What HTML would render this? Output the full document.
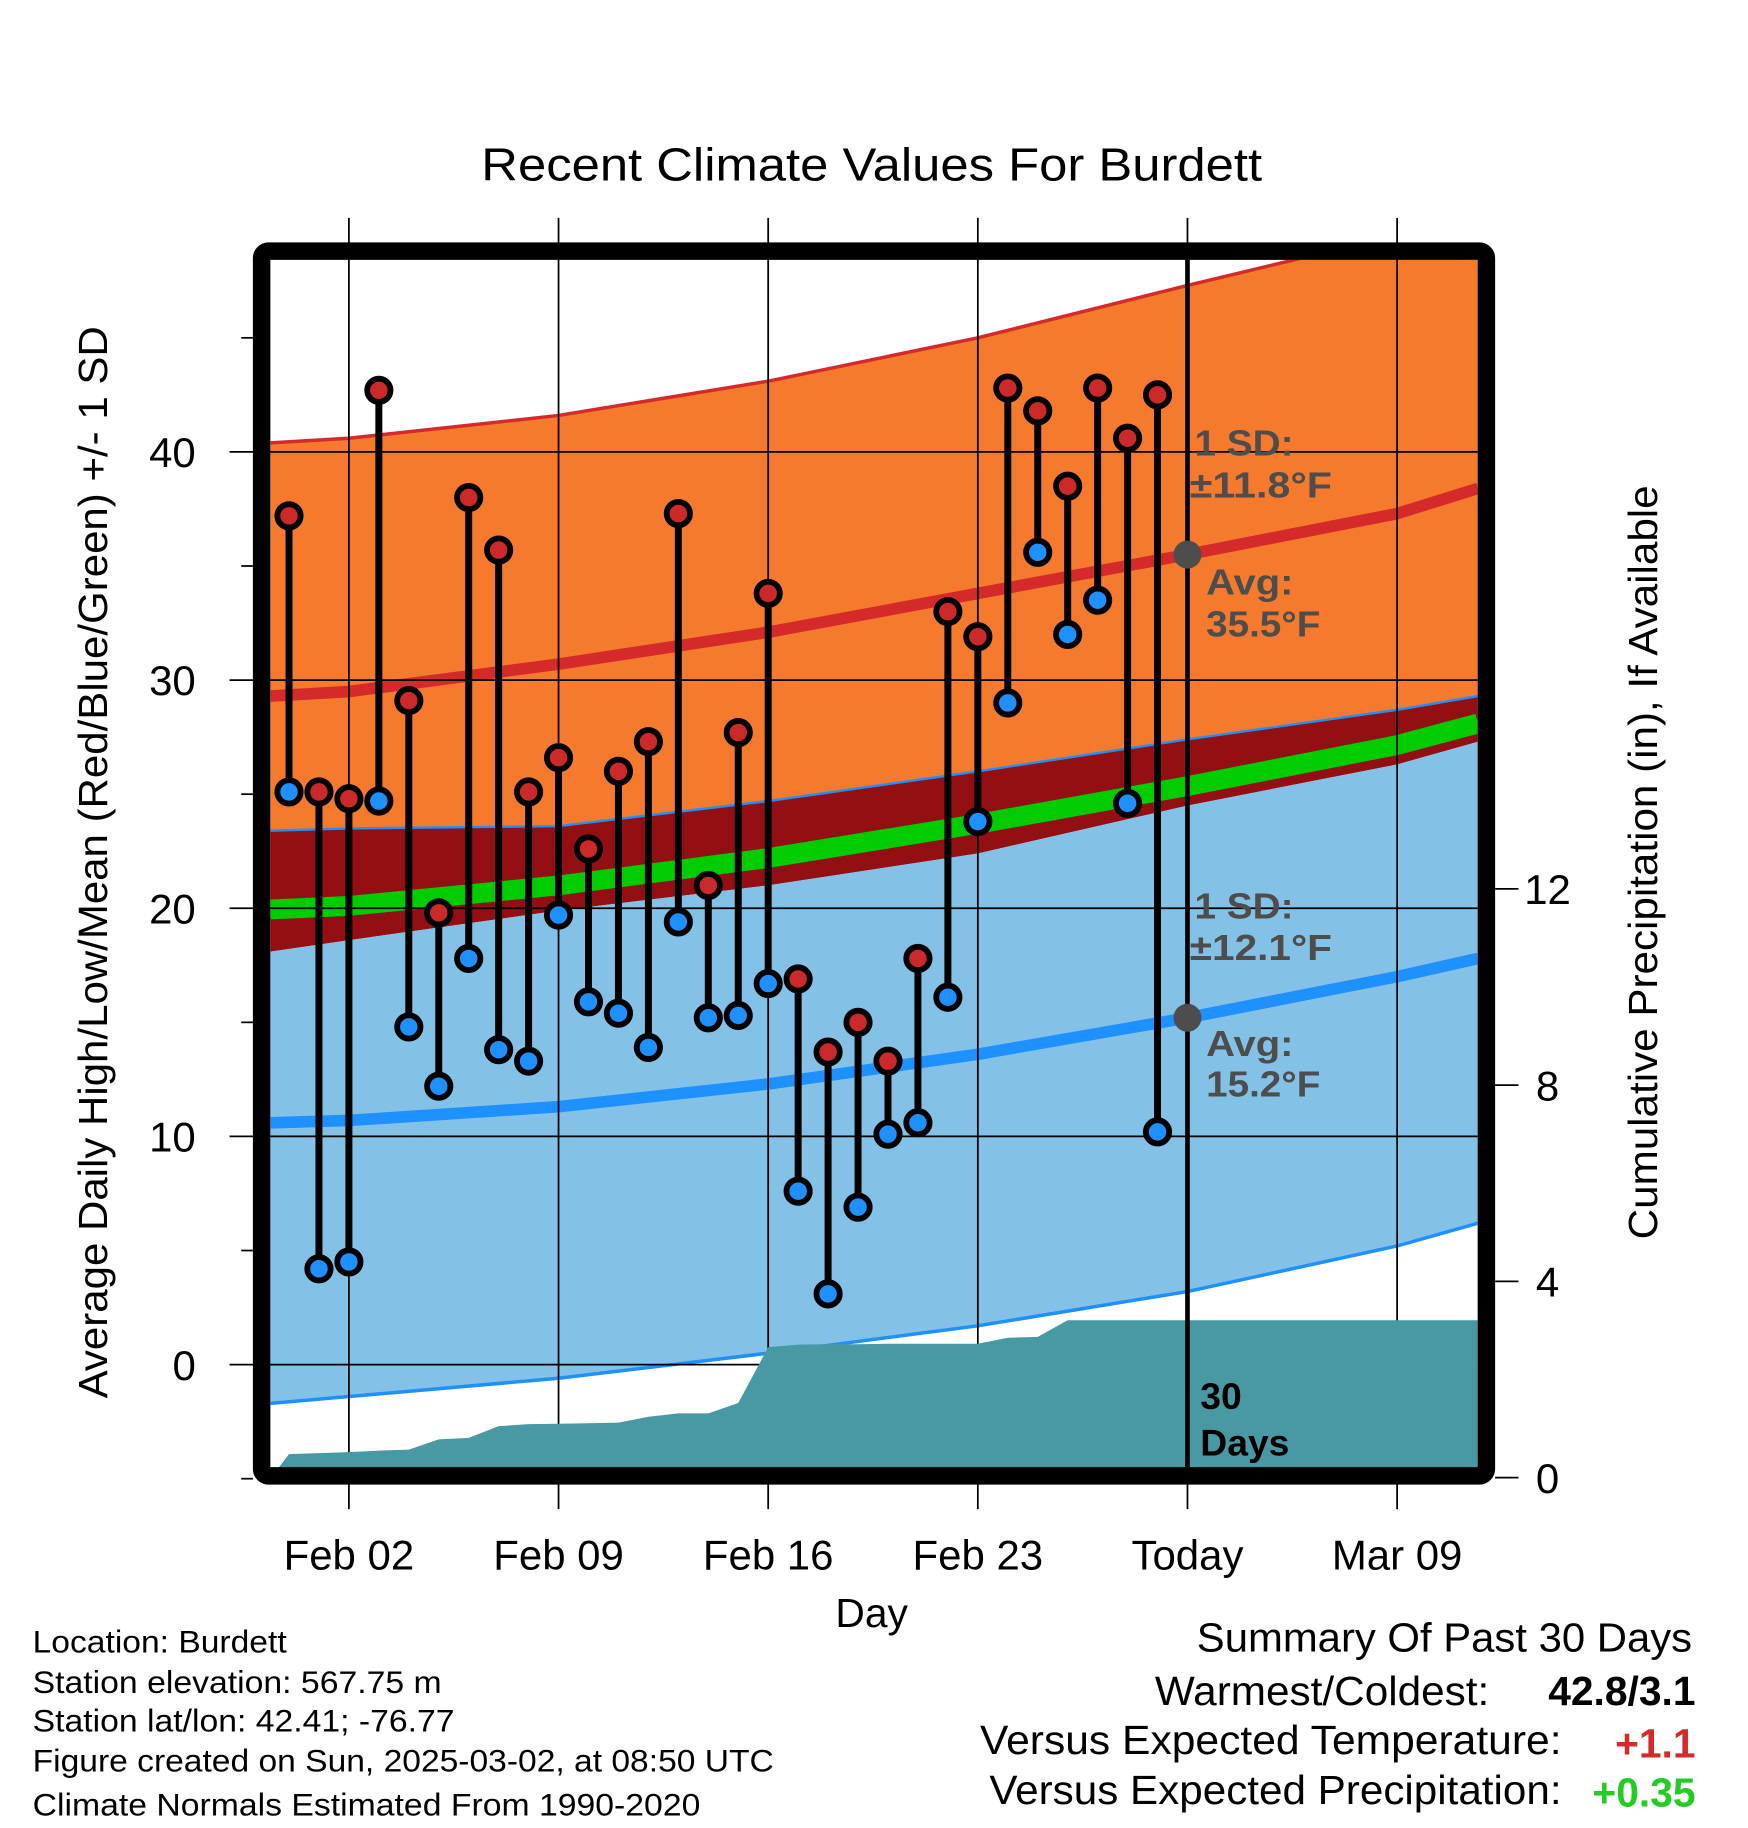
<!DOCTYPE html>
<html><head><meta charset="utf-8"><style>
html,body{margin:0;padding:0;background:#fff;}
svg{display:block;font-family:"Liberation Sans",sans-serif;}
</style></head><body>
<svg id="chart" width="1748" height="1828" viewBox="0 0 1500 1568.65" preserveAspectRatio="none" xmlns="http://www.w3.org/2000/svg">
<defs><clipPath id="plotclip"><rect x="232" y="223" width="1036" height="1036"/></clipPath></defs>
<g id="plot" clip-path="url(#plotclip)"></g>
<g id="over"></g>
</svg>
<script>
// ---- data ----
const dayLabels = ["Feb 02","Feb 09","Feb 16","Feb 23","Today","Mar 09"];
const dayTicks = [2,9,16,23,30,37];
const highs = [37.2,25.1,24.8,42.7,29.1,19.8,38.0,35.7,25.1,26.6,22.6,26.0,27.3,37.3,21.0,27.7,33.8,16.9,13.7,15.0,13.3,17.8,33.0,31.9,42.8,41.8,38.5,42.8,40.6,42.5];
const lows  = [25.1,4.2,4.5,24.7,14.8,12.2,17.8,13.8,13.3,19.7,15.9,15.4,13.9,19.4,15.2,15.3,16.7,7.6,3.1,6.9,10.1,10.6,16.1,23.8,29.0,35.6,32.0,33.5,24.6,10.2];
const precip = [0.48,0.50,0.52,0.55,0.57,0.78,0.81,1.05,1.09,1.10,1.11,1.12,1.24,1.31,1.31,1.52,2.66,2.71,2.72,2.72,2.73,2.73,2.73,2.73,2.85,2.87,3.21,3.21,3.21,3.21];
const normDays  = [-0.62,2,9,16,23,30,37,39.7];
const avgHigh   = [29.3,29.5,30.7,32.1,33.8,35.5,37.3,38.4];
const highPlus  = [40.4,40.6,41.6,43.1,45.0,47.3,49.5,51.0];
const highMinus = [23.4,23.5,23.6,24.7,26.0,27.4,28.7,29.3];
const lowPlus   = [18.1,18.6,19.9,21.0,22.4,24.5,26.3,27.3];
const avgLow    = [10.6,10.7,11.3,12.3,13.6,15.2,17.0,17.8];
const lowMinus  = [-1.7,-1.4,-0.6,0.5,1.7,3.2,5.2,6.2];
const meanT     = [19.95,20.1,21.0,22.2,23.7,25.35,27.15,28.1];
const yTicks = [0,10,20,30,40];
const pTicks = [0,4,8,12];

// ---- axes ----
const X = d => 248 + 25.7*d;
const Y = v => 1171 - 19.58*v;
const P = p => 1268 - 42.1*p;
const NS="http://www.w3.org/2000/svg";
const plot=document.getElementById('plot'), over=document.getElementById('over');
function mk(tag,attrs,parent){const e=document.createElementNS(NS,tag);for(const k in attrs)e.setAttribute(k,attrs[k]);parent.appendChild(e);return e;}
function line(arr){return normDays.map((d,i)=>X(d).toFixed(1)+','+Y(arr[i]).toFixed(1));}
function band(top,bot){return line(top).concat(line(bot).reverse()).join(' ');}

let e;
e=mk('polygon',{points:band(highPlus,highMinus),fill:'#F57A2E'},plot);


e=mk('polygon',{points:band(highMinus,lowPlus),fill:'#930F14'},plot);


e=mk('polygon',{points:band(lowPlus,lowMinus),fill:'#84C1E6'},plot);


e=mk('polyline',{points:line(meanT).join(' '),fill:'none',stroke:'#00CC00','stroke-width':17},plot);


e=mk('polyline',{points:line(highPlus).join(' '),fill:'none',stroke:'#D42A2A','stroke-width':3},plot);


e=mk('polyline',{points:line(highMinus).join(' '),fill:'none',stroke:'#1E90FF','stroke-width':2},plot);


e=mk('polyline',{points:line(lowMinus).join(' '),fill:'none',stroke:'#1E90FF','stroke-width':3},plot);


e=mk('polyline',{points:line(avgHigh).join(' '),fill:'none',stroke:'#D42A2A','stroke-width':10},plot);


e=mk('polyline',{points:line(avgLow).join(' '),fill:'none',stroke:'#1E90FF','stroke-width':10},plot);



// grid
yTicks.forEach(v=>{
  e=mk('line',{x1:197,x2:1268,y1:Y(v),y2:Y(v),stroke:'#000','stroke-width':1.5},over);
  
  
  e=mk('text',{x:168,y:Y(v)+13,'font-size':36,'text-anchor':'end'},over);e.textContent=v;
  
  
});
[-5,5,15,25,35,45].forEach(v=>{
  e=mk('line',{x1:207,x2:217,y1:Y(v),y2:Y(v),stroke:'#000','stroke-width':1.5},over);
  
  
});
dayTicks.forEach((d,i)=>{
  e=mk('line',{x1:X(d),x2:X(d),y1:187,y2:1295,stroke:'#000','stroke-width':1.5},over);
  
  
  e=mk('text',{x:X(d),y:1347,'font-size':36,'text-anchor':'middle'},over);e.textContent=dayLabels[i];
  
  
});
pTicks.forEach(p=>{
  e=mk('line',{x1:1283,x2:1303,y1:P(p),y2:P(p),stroke:'#000','stroke-width':1.5},over);
  
  
  e=mk('text',{x:1328,y:P(p)+13,'font-size':36,'text-anchor':'middle'},over);e.textContent=p;
  
  
});

// precipitation
let pts=[[232,P(0)],[X(-0.6),P(0)]];
precip.forEach((p,i)=>pts.push([X(i),P(p)]));
pts.push([1268,P(precip[precip.length-1])],[1268,P(0)]);
e=mk('polygon',{points:pts.map(q=>q[0].toFixed(1)+','+q[1].toFixed(1)).join(' '),fill:'#4899A3'},over);



// today line
e=mk('line',{x1:X(30),x2:X(30),y1:223,y2:1259,stroke:'#000','stroke-width':4},over);



// stems + markers
highs.forEach((h,i)=>{
  const x=X(i);
  e=mk('line',{x1:x,x2:x,y1:Y(h),y2:Y(lows[i]),stroke:'#000','stroke-width':6},over);
  
  
  e=mk('circle',{cx:x,cy:Y(h),r:10,fill:'#CC2A2A',stroke:'#000','stroke-width':5},over);
  
  
  e=mk('circle',{cx:x,cy:Y(lows[i]),r:10,fill:'#1E90FF',stroke:'#000','stroke-width':5},over);
  
  
});

// avg dots
e=mk('circle',{cx:X(30),cy:Y(avgHigh[5]),r:12,fill:'#4d4d4d'},over);


e=mk('circle',{cx:X(30),cy:Y(avgLow[5]),r:12,fill:'#4d4d4d'},over);



// border
e=mk('rect',{x:224.5,y:215.5,width:1051,height:1051,rx:6,fill:'none',stroke:'#000','stroke-width':15},over);



// annotations
const ann=[["1 SD:",1025,391,85],["±11.8°F",1021,427,122],["Avg:",1035,510,75],["35.5°F",1035,546,98],["1 SD:",1025,788,85],["±12.1°F",1021,824,122],["Avg:",1035,906,75],["15.2°F",1035,941,98]];
ann.forEach(a=>{
  e=mk('text',{x:a[1],y:a[2],'font-size':31,'font-weight':'bold',fill:'#4d4d4d',textLength:a[3],lengthAdjust:'spacingAndGlyphs'},over);e.textContent=a[0];
  
  
});
[["30",1209],["Days",1249]].forEach(a=>{
  e=mk('text',{x:1030,y:a[1],'font-size':32,'font-weight':'bold',fill:'#000'},over);e.textContent=a[0];
  
  
});
</script>
<svg style="position:absolute;left:0;top:0" width="1748" height="1828" viewBox="0 0 1500 1568.65" preserveAspectRatio="none" xmlns="http://www.w3.org/2000/svg" font-family="Liberation Sans, sans-serif">
<text x="413" y="155" font-size="40" textLength="670" lengthAdjust="spacingAndGlyphs">Recent Climate Values For Burdett</text>
<text transform="translate(92,740) rotate(-90)" font-size="35" text-anchor="middle" textLength="920" lengthAdjust="spacingAndGlyphs">Average Daily High/Low/Mean (Red/Blue/Green) +/- 1 SD</text>
<text transform="translate(1422,740) rotate(-90)" font-size="35" text-anchor="middle" textLength="647" lengthAdjust="spacingAndGlyphs">Cumulative Precipitation (in), If Available</text>
<text x="748" y="1396" font-size="35" text-anchor="middle">Day</text>
<g font-size="27">
<text x="28" y="1418" textLength="218" lengthAdjust="spacingAndGlyphs">Location: Burdett</text>
<text x="28" y="1453" textLength="351" lengthAdjust="spacingAndGlyphs">Station elevation: 567.75 m</text>
<text x="28" y="1486" textLength="362" lengthAdjust="spacingAndGlyphs">Station lat/lon: 42.41; -76.77</text>
<text x="28" y="1520" textLength="636" lengthAdjust="spacingAndGlyphs">Figure created on Sun, 2025-03-02, at 08:50 UTC</text>
<text x="28" y="1558" textLength="573" lengthAdjust="spacingAndGlyphs">Climate Normals Estimated From 1990-2020</text>
</g>
<g font-size="35">
<text x="1027" y="1417" textLength="425" lengthAdjust="spacingAndGlyphs">Summary Of Past 30 Days</text>
<text x="991" y="1463" textLength="287" lengthAdjust="spacingAndGlyphs">Warmest/Coldest:</text>
<text x="1455" y="1463" text-anchor="end" font-weight="bold">42.8/3.1</text>
<text x="841" y="1505" textLength="499" lengthAdjust="spacingAndGlyphs">Versus Expected Temperature:</text>
<text x="1455" y="1508" text-anchor="end" font-weight="bold" fill="#D42A2A">+1.1</text>
<text x="849" y="1548" textLength="491" lengthAdjust="spacingAndGlyphs">Versus Expected Precipitation:</text>
<text x="1455" y="1550" text-anchor="end" font-weight="bold" fill="#22CC22">+0.35</text>
</g>
</svg>
</body></html>
